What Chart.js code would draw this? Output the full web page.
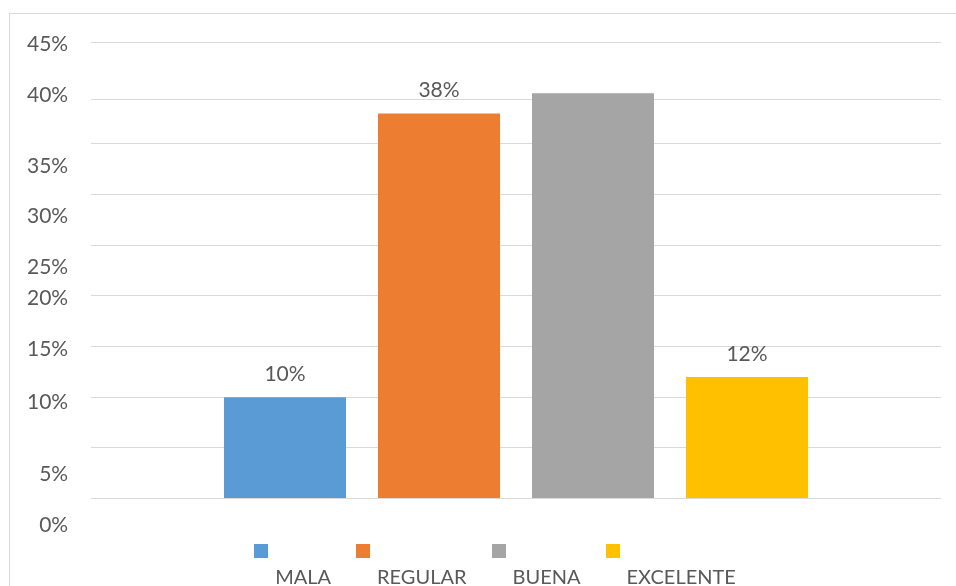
<!DOCTYPE html>
<html>
<head>
<meta charset="utf-8">
<script src="https://cdn.jsdelivr.net/npm/chart.js@4/dist/chart.umd.min.js"></script>
<style>
    html, body { margin: 0; padding: 0; background: #fff; overflow: hidden; }
    .frame {
        position: absolute; left: 9px; top: 13px;
        width: 1200px; height: 900px;
        border: 1px solid #d9d9d9;
    }
    #chart { position: absolute; left: 0; top: 0; }
</style>
</head>
<body>
<div class="frame"></div>
<canvas id="chart" width="956" height="586"></canvas>
<script>
// datos
const categories = ['MALA', 'REGULAR', 'BUENA', 'EXCELENTE'];
const values = [10, 38, 40, 12];
const barLabels = ['10%', '38%', '', '12%'];
const colors = ['#5B9BD5', '#ED7D31', '#A5A5A5', '#FFC000'];

// líneas de cuadrícula y etiquetas del eje (tal como aparecen en la imagen)
const gridValues = [0, 5, 10, 15, 20, 25, 30, 35, 39.4, 45];
const tickLabels = ['0%', '5%', '10%', '15%', '20%', '25%', '30%', '35%', '40%', '45%'];
const tickLabelValues = [-2.6, 2.4, 9.5, 14.7, 19.8, 22.8, 27.9, 32.8, 39.8, 44.8];

const textColor = '#595959';
Chart.defaults.font.family = 'Lato, Carlito, "Open Sans", sans-serif';
Chart.defaults.color = textColor;

// marcador de leyenda: cuadro arriba, el texto queda debajo
function legendMarker(color) {
    const c = document.createElement('canvas');
    c.width = 14;
    c.height = 68;
    const g = c.getContext('2d');
    g.fillStyle = color;
    g.fillRect(0, 0, 14, 14);
    return c;
}
const markers = colors.map(legendMarker);

const barLabelPlugin = {
    id: 'barLabels',
    afterDatasetsDraw(chart) {
        const ctx = chart.ctx;
        ctx.save();
        ctx.font = '21px Lato';
        ctx.fillStyle = textColor;
        ctx.textAlign = 'center';
        ctx.textBaseline = 'middle';
        chart.data.datasets.forEach((ds, i) => {
            const bar = chart.getDatasetMeta(i).data[0];
            if (!barLabels[i]) return;
            ctx.fillText(barLabels[i], bar.x, bar.y - 23);
        });
        ctx.restore();
    }
};

new Chart(document.getElementById('chart'), {
    type: 'bar',
    data: {
        labels: [''],
        datasets: categories.map((name, i) => ({
            label: name,
            data: [values[i]],
            backgroundColor: colors[i],
            borderWidth: 0,
            categoryPercentage: 0.7247,
            barPercentage: 0.7922
        }))
    },
    options: {
        responsive: false,
        animation: false,
        layout: {
            padding: { left: 52, right: 15, top: 42.5, bottom: -12 }
        },
        scales: {
            x: {
                display: true,
                grid: { display: false, drawTicks: true, tickLength: 41.5 },
                border: { display: false },
                ticks: { display: false }
            },
            y: {
                min: 0,
                max: 45,
                weight: 0,
                afterBuildTicks: scale => {
                    scale.ticks = gridValues.map(v => ({ value: v }));
                },
                grid: { color: '#d9d9d9', lineWidth: 1, drawTicks: false },
                border: { display: false },
                ticks: { display: false }
            },
            yl: {
                display: true,
                position: 'left',
                min: 0,
                max: 45,
                weight: 1,
                afterBuildTicks: scale => {
                    scale.ticks = tickLabelValues.map(v => ({ value: v }));
                },
                afterFit: scale => {
                    scale.width = 91 - 52;
                },
                grid: { display: false, drawTicks: false },
                border: { display: false },
                ticks: {
                    autoSkip: false,
                    mirror: true,
                    crossAlign: 'far',
                    padding: -64,
                    color: textColor,
                    font: { size: 21 },
                    callback: (value, index) => tickLabels[index]
                }
            }
        },
        plugins: {
            tooltip: { enabled: false },
            legend: {
                position: 'bottom',
                labels: {
                    usePointStyle: true,
                    pointStyleWidth: 8,
                    boxHeight: 14,
                    padding: 28,
                    color: textColor,
                    font: { size: 20 },
                    generateLabels(chart) {
                        const items = Chart.defaults.plugins.legend.labels.generateLabels(chart);
                        items.forEach(item => { item.pointStyle = markers[item.datasetIndex]; });
                        return items;
                    }
                }
            }
        }
    },
    plugins: [barLabelPlugin]
});
</script>
</body>
</html>
